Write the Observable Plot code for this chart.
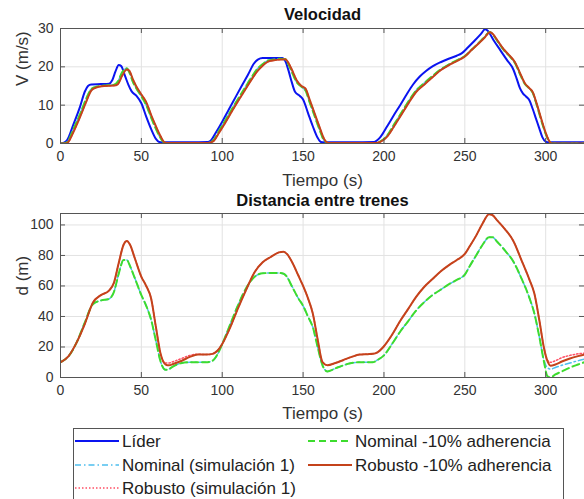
<!DOCTYPE html>
<html><head><meta charset="utf-8">
<script src="https://cdn.jsdelivr.net/npm/d3@7"></script>
<script src="https://cdn.jsdelivr.net/npm/@observablehq/plot@0.6"></script>
<style>
body{margin:0;background:#fff;font-family:"Liberation Sans",Arial,Helvetica,sans-serif;}
#wrap{position:relative;width:584px;height:499px;overflow:hidden;background:#fff;}
#top{position:absolute;left:0;top:0;}
#bot{position:absolute;left:0;top:190px;}
#legend{position:absolute;left:73px;top:428px;}
</style></head><body>
<div id="wrap"><div id="top"></div><div id="bot"></div><div id="legend"></div></div>
<script>
// ---------- tick labels ----------
const xTicks = [0, 50, 100, 150, 200, 250, 300];
const vTicks = [0, 10, 20, 30];
const dTicks = [0, 20, 40, 60, 80, 100];

// ---------- series names ----------
const seriesNames = ["Líder", "Nominal (simulación 1)", "Robusto (simulación 1)", "Nominal -10% adherencia", "Robusto -10% adherencia"];

// ---------- Velocity: leader ----------
const tLeader = [0,2,4,8,12,15,17,19,25,30,32,34,36,37.5,40,42,44,47,50,53,56,59,61,63,80,91,93,96,100,104,108,112,116,119.5,122,125,137,139,141,143,145,148,150,153,156,159,161,163,180,194,196,198,202,206,210,214,218,222,226,230,235,240,245,248,252,256,260,262.5,264,268,272,276,280,282,284,286,288,290,292,294,296,298,300,302,324];
const vLeader = [0,0.2,0.8,5,9.5,13.5,15,15.4,15.5,15.6,16.5,18.8,20.5,20.2,17.5,15.3,13.6,12.4,10.5,7,3.8,1.2,0.4,0.3,0.3,0.4,0.8,2.8,5.7,8.8,11.9,15,18,20.8,21.9,22.3,22.3,21.5,19,16,13.5,12.4,11.5,8,4.5,1.5,0.4,0.3,0.3,0.4,0.9,1.8,4.5,7.3,10,12.8,15.4,17.4,18.9,20.1,21.2,22.1,22.9,23.5,25.1,26.8,28.6,29.8,29.5,26.8,24.3,21.8,19.3,17,14.5,13,12.2,11.2,9,6.5,4,1.6,0.5,0.3,0.3];

// ---------- Velocity: followers (shared time grid) ----------
const tFollow = [0,3,5,8,12,16,19,22,27,33,35.5,38,41,42.5,45,47,50,53,56,59,62,64,66,80,90,93,95,98,102,106,110,114,118,122,125,128,132,136,139,141,143,146,149,151.5,154,157,160,163,166,180,195,198,202,206,210,215,220,225,230,235,240,245,250,254,258,262,265.5,267,270,274,278,281,284,287,290,292,294,297,300,302,304,324];
const vNomSim = [0,0.1,0.9,3.8,7.6,11.8,14.2,14.8,15.1,15.3,16.2,18.5,19.6,18.6,15.8,14.3,12.3,10,6.8,3.8,1.3,0.3,0.1,0.1,0.1,0.4,1.1,3.3,6.1,9,11.8,14.5,17.2,19.6,20.7,21.6,21.9,22.1,22,20.6,18.7,16,14.8,13.8,10.8,7.3,3.8,0.8,0.1,0.1,0.1,0.6,2.1,4.8,7.5,10.9,13.9,15.8,17.6,19.3,20.6,21.7,22.8,24.4,26,27.7,29.1,28.6,26.8,24.4,22.6,21,18.2,15.6,14.3,13.2,10.7,6.4,2.5,0.7,0,0];
const vRobSim = [0,0,0.5,3,6.8,11,13.8,14.6,15,15.1,15.5,17.6,19.3,19,16.5,14.8,12.8,10.8,7.5,4.5,1.8,0.4,0.1,0.1,0.1,0.3,0.8,2.8,5.5,8.4,11.2,13.9,16.6,19,20.3,21.3,21.7,21.9,22,21,19.3,16.5,15,14.3,11.5,8,4.5,1.2,0.1,0.1,0.1,0.5,1.8,4.3,7,10.4,13.5,15.4,17.3,19.1,20.4,21.5,22.7,24.3,25.9,27.5,29,28.7,27,24.6,22.8,21.2,18.5,15.8,14.4,13.4,11,6.8,2.8,0.8,0,0];
const vNom = [0,0.1,0.9,3.8,7.6,11.8,14.2,14.8,15.1,15.3,16.2,18.5,19.6,18.6,15.8,14.3,12.3,10,6.8,3.8,1.3,0.3,0.1,0.1,0.1,0.4,1.1,3.3,6.1,9,11.8,14.5,17.2,19.6,20.7,21.6,21.9,22.1,22,20.6,18.7,16,14.8,13.8,10.8,7.3,3.8,0.8,0.1,0.1,0.1,0.6,2.1,4.8,7.5,10.9,13.9,15.8,17.6,19.3,20.6,21.7,22.8,24.4,26,27.7,29.1,28.6,26.8,24.4,22.6,21,18.2,15.6,14.3,13.2,10.7,6.4,2.5,0.7,0,0];
const vRob = [0,0,0.5,3,6.8,11,13.8,14.6,15,15.1,15.5,17.6,19.3,19,16.5,14.8,12.8,10.8,7.5,4.5,1.8,0.4,0.1,0.1,0.1,0.3,0.8,2.8,5.5,8.4,11.2,13.9,16.6,19,20.3,21.3,21.7,21.9,22,21,19.3,16.5,15,14.3,11.5,8,4.5,1.2,0.1,0.1,0.1,0.5,1.8,4.3,7,10.4,13.5,15.4,17.3,19.1,20.4,21.5,22.7,24.3,25.9,27.5,29,28.7,27,24.6,22.8,21.2,18.5,15.8,14.4,13.4,11,6.8,2.8,0.8,0,0];

// ---------- Distance between trains (shared time grid) ----------
const tDist = [0,5,10,15,20,25,30,33,36,39,41,43,46,50,53,56,59,62,65,67,70,75,80,85,90,94,97,100,105,110,115,120,125,130,135,138,140,143,147,150,153,156,159,162,165,170,175,180,185,190,193,196,200,205,210,215,220,225,230,235,240,245,250,253,257,261,265,267,270,275,280,285,290,293,296,299,301,303,306,310,315,320,324];
const dNomSim = [10,14,23,36,48,50.5,51.5,56,68,77,77,73,65,54,47,38,24,10,5,5.5,7.5,9.5,10,10,10,11,15,22,35,48,59,66,68.3,68.5,68.5,68,66,60,52,47,40,33,20,8,4,6,8,9.5,10,10,10,11.5,14.5,22,30,37,44,49.5,54,57.5,61,64,67.5,73,80,87,92,92,89,83,76,65,52,42,27,11,6.5,5.5,6.5,8,9.5,11,12];
const dRobSim = [10,14,23,35,49,54,57,62,75,87,89.5,87,78,66,60,52,33,15,9.5,9.5,10.5,12.5,14.5,15.3,15,15.5,17.5,22,33,46,58,69,75.5,79,82,82.5,81,76,67,60,52,42,25,10,8,9.5,11.5,13.5,15,15.3,15.5,16.5,20.5,28,37,45,53,59.5,64.5,69.5,73.5,77,81,86,93,101,107,106.5,103,97,89.5,77,64,55,38,19,11.5,10,11,13,14.5,15.5,16];
const dNom = [10,14,23,36,48,50.5,51.5,56,68,77,77,73,65,54,47,38,24,10,5,5.5,7.5,9.5,10,10,10,11,15,22,35,48,59,66,68.3,68.5,68.5,68,66,60,52,47,40,33,20,8,4,6,8,9.5,10,10,10,11.5,14.5,22,30,37,44,49.5,54,57.5,61,64,67.5,73,80,87,92,92,89,83,76,65,52,42,27,10,1,0,2,4,6.5,8.5,10];
const dRob = [10,14,23,35,49,54,57,62,75,87,89.5,87,78,66,60,52,33,15,8.5,8,9,11,13.5,15,15,15.5,17.5,22,33,46,58,69,75.5,79,82,82.5,81,76,67,60,52,42,25,10,8,9.5,11.5,13.5,15,15.3,15.5,16.5,20.5,28,37,45,53,59.5,64.5,69.5,73.5,77,81,86,93,101,107,106.5,103,97,89.5,77,64,55,38,19,11,7.7,8.5,10.5,12.5,14,15];

// ---------- styles ----------
const styles = {
  "Líder": {stroke: "#0a14f0", strokeWidth: 2, dash: null},
  "Nominal (simulación 1)": {stroke: "#4dbeee", strokeWidth: 1.5, dash: "6,3,1.5,3"},
  "Robusto (simulación 1)": {stroke: "#ff4f64", strokeWidth: 1.5, dash: "1.5,2"},
  "Nominal -10% adherencia": {stroke: "#3ddc2e", strokeWidth: 2, dash: "7,4"},
  "Robusto -10% adherencia": {stroke: "#c4431b", strokeWidth: 2, dash: null}
};

const rows = (ts, vs) => ts.map((t, i) => ({t, v: vs[i]}));
const velSeries = [
  ["Líder", rows(tLeader, vLeader)],
  ["Nominal (simulación 1)", rows(tFollow, vNomSim)],
  ["Robusto (simulación 1)", rows(tFollow, vRobSim)],
  ["Nominal -10% adherencia", rows(tFollow, vNom)],
  ["Robusto -10% adherencia", rows(tFollow, vRob)]
];
const distSeries = [
  ["Nominal (simulación 1)", rows(tDist, dNomSim)],
  ["Robusto (simulación 1)", rows(tDist, dRobSim)],
  ["Nominal -10% adherencia", rows(tDist, dNom)],
  ["Robusto -10% adherencia", rows(tDist, dRob)]
];

const FONT = '"Liberation Sans", Arial, Helvetica, sans-serif';
const W = 584, ML = 60, MR = 0;
const frameColor = "#555";
const gridColor = "#e2e2e2";
const tickLen = 5;

function panel({height, marginTop, marginBottom, yDomain, yTicks, series, title, titleDy, ylabel, xlabelDy}) {
  const fw = W - ML - MR;
  const fh = height - marginTop - marginBottom;
  const lineMarks = series.map(([name, data]) => {
    const s = styles[name];
    return Plot.line(data, {x: "t", y: "v", stroke: s.stroke, strokeWidth: s.strokeWidth,
      strokeDasharray: s.dash ?? undefined, curve: "monotone-x", clip: true});
  });
  return Plot.plot({
    width: W, height, marginTop, marginBottom, marginLeft: ML, marginRight: MR,
    style: {fontFamily: FONT, fontSize: "14px", color: "#333", background: "white", overflow: "visible"},
    x: {domain: [0, 324]},
    y: {domain: yDomain},
    marks: [
      Plot.gridX(xTicks, {stroke: gridColor, strokeOpacity: 1}),
      Plot.gridY(yTicks, {stroke: gridColor, strokeOpacity: 1}),
      ...lineMarks,
      Plot.frame({stroke: frameColor, strokeWidth: 1}),
      Plot.ruleX(xTicks, {insetTop: fh - tickLen, stroke: frameColor}),
      Plot.ruleX(xTicks, {insetBottom: fh - tickLen, stroke: frameColor}),
      Plot.ruleY(yTicks, {insetRight: fw - tickLen, stroke: frameColor}),
      Plot.ruleY(yTicks, {insetLeft: fw - tickLen, stroke: frameColor}),
      Plot.axisX(xTicks, {tickSize: 0, tickPadding: 8, label: null, fontSize: 14, fill: "#333"}),
      Plot.axisY(yTicks, {tickSize: 0, tickPadding: 7, label: null, fontSize: 14, fill: "#333"}),
      Plot.text([title], {text: d => d, frameAnchor: "top", lineAnchor: "middle", dy: titleDy, fontWeight: "bold", fontSize: 16.5, fill: "#111"}),
      Plot.text(["Tiempo (s)"], {text: d => d, frameAnchor: "bottom", lineAnchor: "middle", dy: xlabelDy, fontSize: 17, fill: "#333"}),
      Plot.text([ylabel], {text: d => d, frameAnchor: "left", lineAnchor: "middle", dx: -38, rotate: -90, fontSize: 17, fill: "#333"})
    ]
  });
}

document.getElementById("top").append(panel({
  height: 190, marginTop: 28, marginBottom: 47, yDomain: [0, 30], yTicks: vTicks,
  series: velSeries, title: "Velocidad", titleDy: -14, ylabel: "V (m/s)", xlabelDy: 37
}));
document.getElementById("bot").append(panel({
  height: 235, marginTop: 23, marginBottom: 48, yDomain: [0, 107.5], yTicks: dTicks,
  series: distSeries, title: "Distancia entre trenes", titleDy: -13, ylabel: "d (m)", xlabelDy: 36
}));

// ---------- legend ----------
const legendPos = [
  {name: "Líder", col: 0, row: 0},
  {name: "Nominal (simulación 1)", col: 0, row: 1},
  {name: "Robusto (simulación 1)", col: 0, row: 2},
  {name: "Nominal -10% adherencia", col: 1, row: 0},
  {name: "Robusto -10% adherencia", col: 1, row: 1}
];
const colX = [2, 235], rowY = [13, 37, 60];
const lg = d3.select("#legend").append("svg").attr("width", 491).attr("height", 80)
  .style("font-family", FONT).style("overflow", "visible");
lg.append("rect").attr("x", 0.5).attr("y", 0.5).attr("width", 490).attr("height", 90)
  .attr("fill", "white").attr("stroke", "#555");
for (const p of legendPos) {
  const s = styles[p.name];
  const x0 = colX[p.col], y0 = rowY[p.row];
  lg.append("line").attr("x1", x0).attr("x2", x0 + 44).attr("y1", y0).attr("y2", y0)
    .attr("stroke", s.stroke).attr("stroke-width", s.strokeWidth)
    .attr("stroke-dasharray", s.dash);
  lg.append("text").attr("x", x0 + 47).attr("y", y0).attr("dy", "0.35em")
    .attr("font-size", 17).attr("fill", "#222").text(p.name);
}
</script>
</body></html>
